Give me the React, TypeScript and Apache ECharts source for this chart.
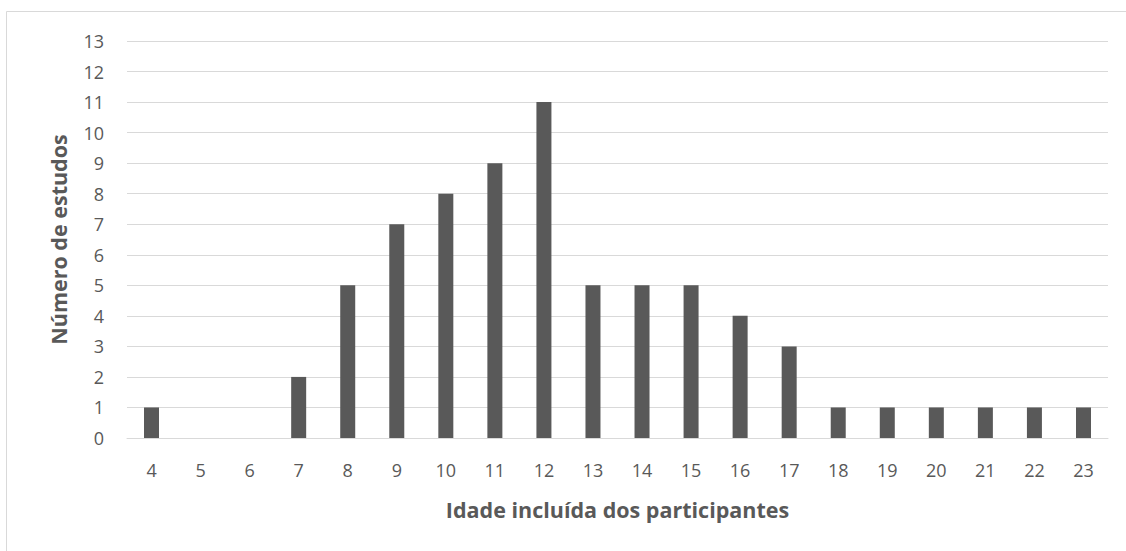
import React, { useEffect, useRef } from "react";
import * as echarts from "echarts";

const ages = ["4","5","6","7","8","9","10","11","12","13","14","15","16","17","18","19","20","21","22","23"];
const studies = [1,0,0,2,5,7,8,9,11,5,5,5,4,3,1,1,1,1,1,1];
const xTitle = "Idade incluída dos participantes";
const yTitle = "Número de estudos";

export default function App() {
  const ref = useRef<HTMLDivElement>(null);
  useEffect(() => {
    const chart = echarts.init(ref.current!, undefined, { renderer: "svg" });
    const font = "'Open Sans', Lato, sans-serif";
    chart.setOption({
      animation: false,
      backgroundColor: "#ffffff",
      textStyle: { fontFamily: font },
      graphic: [
        { type: "rect", shape: { x: 6.5, y: 11.5, width: 1130, height: 560 }, style: { fill: "none", stroke: "#d9d9d9", lineWidth: 1 }, silent: true },
      ],
      grid: { left: 127, right: 18, top: 41, bottom: 113 },
      xAxis: {
        type: "category",
        data: ages,
        axisLine: { lineStyle: { color: "#d9d9d9" } },
        axisTick: { show: false },
        axisLabel: { color: "#595959", fontSize: 18, margin: 23, fontFamily: font },
        name: xTitle,
        nameLocation: "middle",
        nameGap: 60,
        nameTextStyle: { color: "#595959", fontSize: 21.5, fontWeight: "bold", fontFamily: font },
      },
      yAxis: {
        type: "value",
        min: 0,
        max: 13,
        interval: 1,
        axisLine: { show: false },
        axisTick: { show: false },
        splitLine: { lineStyle: { color: "#d9d9d9", width: 1 } },
        axisLabel: { color: "#595959", fontSize: 18, margin: 23, fontFamily: font },
        name: yTitle,
        nameLocation: "middle",
        nameGap: 58,
        nameRotate: 90,
        nameTextStyle: { color: "#595959", fontSize: 21.5, fontWeight: "bold", fontFamily: font },
      },
      series: [
        {
          type: "bar",
          data: studies,
          barWidth: 15,
          itemStyle: { color: "#595959" },
        },
      ],
    });
    return () => chart.dispose();
  }, []);
  return <div ref={ref} style={{ position: "absolute", left: 0, top: 0, width: 1126, height: 551 }} />;
}
